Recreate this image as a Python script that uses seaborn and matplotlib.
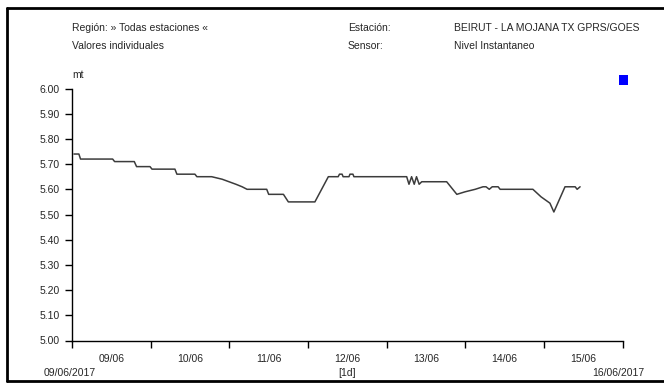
import numpy as np
import pandas as pd
import matplotlib
matplotlib.use('Agg')
import matplotlib.pyplot as plt
from matplotlib.lines import Line2D
from matplotlib.patches import Rectangle
import seaborn as sns

# Data (hours after 09/06/2017 00:00, level in mt)
hours = [0.6, 2.1, 2.6, 12.4, 13.0, 19.0, 19.7, 23.8, 24.4, 31.4, 32.0, 37.5, 38.1,
         42.6, 45.8, 47.9, 50.0, 51.9, 53.4, 59.4, 60.0, 64.5, 66.0, 74.1, 78.2,
         81.2, 81.6, 82.4, 82.7, 84.5, 84.8, 85.7, 86.0, 102.1, 102.8, 103.6,
         104.4, 105.1, 105.9, 106.7, 114.3, 117.4, 119.9, 123.0, 125.4, 126.3,
         127.3, 128.2, 130.0, 130.6, 140.6, 143.1, 145.8, 147.0, 150.4, 153.5,
         154.1, 155.0]
levels = [5.74, 5.74, 5.72, 5.72, 5.71, 5.71, 5.69, 5.69, 5.68, 5.68, 5.66, 5.66, 5.65,
          5.65, 5.64, 5.63, 5.62, 5.61, 5.60, 5.60, 5.58, 5.58, 5.55, 5.55, 5.65,
          5.65, 5.66, 5.66, 5.65, 5.65, 5.66, 5.66, 5.65, 5.65, 5.62, 5.65,
          5.62, 5.65, 5.62, 5.63, 5.63, 5.58, 5.59, 5.60, 5.61, 5.61,
          5.60, 5.61, 5.61, 5.60, 5.60, 5.57, 5.545, 5.51, 5.61, 5.61,
          5.60, 5.61]
day_labels = ['09/06', '10/06', '11/06', '12/06', '13/06', '14/06', '15/06']
start = pd.Timestamp('2017-06-09')
end = pd.Timestamp('2017-06-16')

df = pd.DataFrame({'time': start + pd.to_timedelta(hours, unit='h'), 'level': levels})

sns.set_style('white')
plt.rcParams['font.family'] = ['Liberation Sans Narrow', 'Liberation Sans', 'DejaVu Sans']
FS = 7.5

W, H = 664, 385
fig = plt.figure(figsize=(W / 100, H / 100), dpi=100)
ax = fig.add_axes([72 / W, 1 - 340.5 / H, (622.7 - 72) / W, (340.5 - 88.5) / H])

sns.lineplot(data=df, x='time', y='level', ax=ax, color='#3c3c3c', linewidth=1.1)

ax.set_xlim(start, end)
ax.set_ylim(5.0, 6.0)
yt = np.arange(5.0, 6.01, 0.1)
ax.set_yticks(yt)
ax.set_yticklabels([f'{v:.2f}' for v in yt], fontsize=FS)

ax.set_xticks(pd.date_range(start, end, freq='D'))
ax.set_xticklabels([])
ax.set_xticks(pd.date_range(start + pd.Timedelta(hours=12), periods=7, freq='D'), minor=True)
ax.set_xticklabels(day_labels, minor=True, fontsize=FS)
ax.tick_params(axis='x', which='major', direction='out', length=5, width=1, color='black', bottom=True)
ax.tick_params(axis='x', which='minor', length=0, pad=10, bottom=True)
ax.tick_params(axis='y', direction='out', length=5, width=1, color='black', left=True, pad=4)
ax.set_xlabel('')
ax.set_ylabel('')
for s in ['top', 'right']:
    ax.spines[s].set_visible(False)
for s in ['left', 'bottom']:
    ax.spines[s].set_color('black')
    ax.spines[s].set_linewidth(1.0)

# header texts
def ftext(x, y, s, **kw):
    fig.text(x / W, 1 - y / H, s, fontsize=FS, va='center', **kw)

ftext(72, 28, 'Región: » Todas estaciones «')
ftext(72, 46, 'Valores individuales')
ftext(72, 75, 'mt')
ftext(348, 28, 'Estación:')
ftext(348, 46, 'Sensor:')
ftext(454, 28, 'BEIRUT - LA MOJANA TX GPRS/GOES')
ftext(454, 46, 'Nivel Instantaneo')
ftext(70, 373, '09/06/2017', ha='center')
ftext(347, 373, '[1d]', ha='center')
ftext(644, 373, '16/06/2017', ha='right')

# legend marker
fig.add_artist(Rectangle((619 / W, 1 - 85 / H), 9 / W, 10 / H, transform=fig.transFigure,
                         facecolor='#0000ff', edgecolor='none'))

# outer frame
frame = dict(color='black', linewidth=2, transform=fig.transFigure)
fig.add_artist(Line2D([7 / W, 1], [1 - 8 / H, 1 - 8 / H], **frame))
fig.add_artist(Line2D([7 / W, 7 / W], [1 - 8 / H, 1 - 381 / H], **frame))
fig.add_artist(Line2D([7 / W, 1], [1 - 381 / H, 1 - 381 / H], **frame))

fig.savefig('out.png', dpi=100)
